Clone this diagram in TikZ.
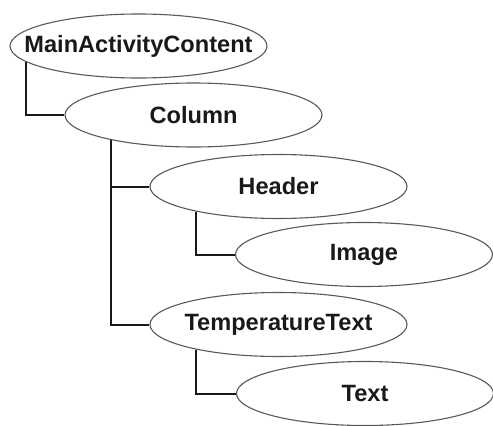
\documentclass[tikz,border=0pt]{standalone}
\usepackage{fontspec}
\setmainfont{Liberation Sans}
\usetikzlibrary{shapes.geometric}
\newcommand{\zw}[1]{\makebox[0pt]{#1}}
\begin{document}
\begin{tikzpicture}[x=1pt,y=-1pt,
  ell/.style={ellipse,draw=black!65,line width=1.1pt,minimum width=257pt,minimum height=64pt,inner sep=0pt,font=\fontsize{23.6}{24}\selectfont\bfseries,text=black!90},
  conn/.style={draw=black!90,line width=2pt}]
\useasboundingbox (0,0) rectangle (493,426);
\node[ell] (mac) at (138.5,46) {\zw{MainActivityContent}};
\node[ell] (col) at (193.5,115) {\zw{Column}};
\node[ell] (hdr) at (278.5,186.5) {\zw{Header}};
\node[ell] (img) at (364,254.5) {\zw{Image}};
\node[ell] (tmp) at (278.5,324.5) {\zw{TemperatureText}};
\node[ell] (txt) at (365,393.5) {\zw{Text}};
\draw[conn] (mac.188.5) |- (col.west);
\draw[conn] (col.197.3) |- (tmp.west);
\draw[conn] (col.197.3 |- hdr.west) -- (hdr.west);
\draw[conn] (hdr.197) |- (img.west);
\draw[conn] (tmp.197) |- (txt.west);
\end{tikzpicture}
\end{document}
